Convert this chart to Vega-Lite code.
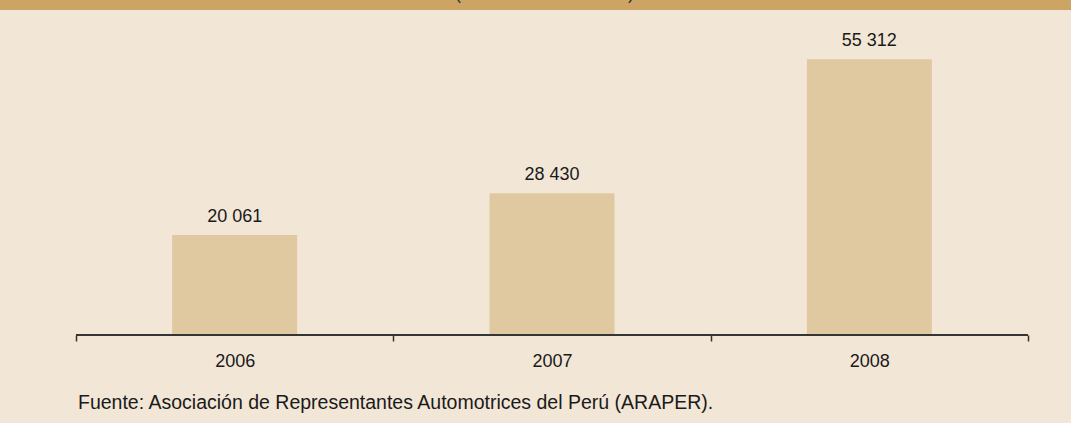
{
  "$schema": "https://vega.github.io/schema/vega-lite/v6.json",
  "background": "#f2e6d6",
  "padding": {"left": 0, "top": 0, "right": 0, "bottom": 11},
  "spacing": 0,
  "config": {
    "font": "Liberation Sans",
    "view": {"stroke": null},
    "locale": {"number": {"decimal": ",", "thousands": " ", "grouping": [3], "currency": ["", ""]}}
  },
  "vconcat": [
    {
      "width": 1071,
      "height": 10,
      "view": {"fill": "#cca463", "stroke": null},
      "data": {"values": [{"t": "(Número de unidades)"}]},
      "mark": {"type": "text", "clip": true, "fontSize": 18, "baseline": "alphabetic", "dx": 9, "color": "#333333"},
      "encoding": {"text": {"field": "t"}, "y": {"value": -1}}
    },
    {
      "width": 1071,
      "height": 325,
      "title": {"text": "Fuente: Asociación de Representantes Automotrices del Perú (ARAPER).", "orient": "bottom", "anchor": "start", "dx": 78, "fontSize": 19.5, "fontWeight": "normal", "color": "#1a1a1a", "offset": 24},
      "data": {"values": [
        {"year": 2006, "value": 20061},
        {"year": 2007, "value": 28430},
        {"year": 2008, "value": 55312}
      ]},
      "layer": [
        {
          "mark": {"type": "bar", "size": 125, "color": "#e0c8a0"},
          "encoding": {
            "x": {"field": "year", "type": "quantitative",
              "scale": {"domain": [2005.2605, 2008.6355], "nice": false, "zero": false, "padding": 0},
              "axis": {"values": [2005.5, 2006, 2006.5, 2007, 2007.5, 2008, 2008.5], "domain": false, "grid": false, "title": null,
                "labelExpr": "datum.value % 1 == 0 ? '' + datum.value : ''",
                "labelFontSize": 18, "labelColor": "#1a1a1a", "labelPadding": 11, "tickSize": 6, "tickWidth": 1.5, "tickColor": "#333333",
                "tickOpacity": {"condition": {"test": "datum.value % 1 != 0", "value": 1}, "value": 0}}},
            "y": {"field": "value", "type": "quantitative", "scale": {"domain": [0, 65196], "nice": false}, "axis": null}
          }
        },
        {
          "mark": {"type": "text", "fontSize": 18, "baseline": "alphabetic", "dy": -13, "color": "#1a1a1a"},
          "encoding": {
            "x": {"field": "year", "type": "quantitative"},
            "y": {"field": "value", "type": "quantitative"},
            "text": {"field": "value", "type": "quantitative", "format": ",d"}
          }
        },
        {
          "mark": {"type": "rule", "color": "#333333", "strokeWidth": 1.5},
          "encoding": {
            "x": {"datum": 2005.5},
            "x2": {"datum": 2008.5},
            "y": {"datum": 0}
          }
        }
      ]
    }
  ]
}
